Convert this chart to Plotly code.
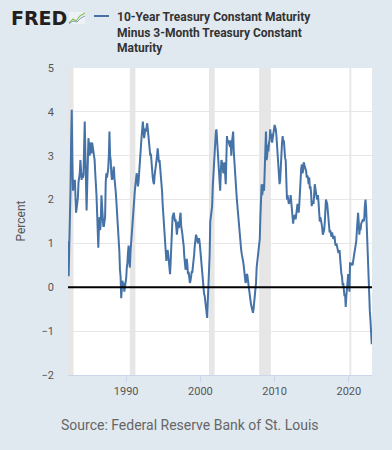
import pandas as pd
import plotly.graph_objects as go

# ---- data (monthly, from Mar 1982) ----
start_month = "1982-03-01"
spread_values = [
    # 1982 (Mar-Dec)
    1.05, 0.25, 0.9, 1.35, 2.2, 3.3, 4.05, 2.9, 2.2, 2.45,
    # 1983
    2.3, 2.45, 2.1, 1.7, 1.8, 1.9, 2.05, 2.4, 2.5, 2.6, 2.9, 2.5,
    # 1984
    2.45, 2.6, 2.5, 2.55, 3.2, 3.78, 3.1, 2.3, 1.75, 2.3, 2.9, 3.4,
    # 1985
    3.2, 3.0, 3.3, 3.25, 3.05, 3.3, 3.2, 3.1, 3.0, 2.9, 2.6, 2.4,
    # 1986
    2.1, 1.7, 1.0, 0.9, 1.4, 1.6, 1.3, 1.5, 2.1, 1.8, 1.6, 1.4,
    # 1987
    1.4, 1.5, 1.6, 2.4, 2.6, 2.5, 2.6, 2.7, 3.0, 3.55, 3.0, 2.9,
    # 1988
    2.6, 2.45, 2.5, 2.7, 2.75, 2.5, 2.4, 2.2, 2.0, 1.8, 1.6, 1.35,
    # 1989
    1.0, 0.8, 0.4, 0.25, -0.25, 0.0, 0.15, 0.05, 0.1, -0.1, 0.0, 0.15,
    # 1990
    0.2, 0.45, 0.55, 0.8, 0.95, 0.6, 0.45, 0.8, 1.05, 1.2, 1.4, 1.5,
    # 1991
    1.8, 2.0, 2.2, 2.35, 2.5, 2.6, 2.5, 2.3, 2.4, 2.65, 2.9, 3.2,
    # 1992
    3.35, 3.45, 3.6, 3.78, 3.6, 3.4, 3.5, 3.62, 3.55, 3.7, 3.74, 3.6,
    # 1993
    3.45, 3.2, 3.05, 3.0, 3.05, 2.8, 2.6, 2.5, 2.4, 2.35, 2.55, 2.65,
    # 1994
    2.7, 2.8, 3.0, 3.17, 3.0, 2.85, 2.9, 2.75, 2.6, 2.4, 2.2, 1.9,
    # 1995
    1.7, 1.5, 1.25, 1.0, 0.8, 0.6, 0.7, 0.85, 0.75, 0.55, 0.4, 0.3,
    # 1996
    0.6, 1.0, 1.3, 1.6, 1.65, 1.7, 1.6, 1.5, 1.55, 1.3, 1.2, 1.35,
    # 1997
    1.5, 1.35, 1.4, 1.6, 1.7, 1.4, 1.2, 1.2, 1.05, 0.95, 0.7, 0.6,
    # 1998
    0.4, 0.5, 0.65, 0.5, 0.3, 0.35, 0.2, 0.1, 0.15, 0.3, 0.35, 0.35,
    # 1999
    0.45, 0.55, 0.75, 0.95, 1.05, 1.2, 1.15, 1.05, 1.0, 1.1, 1.1, 1.0,
    # 2000
    0.8, 0.7, 0.55, 0.35, 0.15, 0.0, -0.15, -0.2, -0.35, -0.45, -0.6, -0.7,
    # 2001
    -0.3, 0.05, 0.3, 0.75, 1.5, 1.6, 1.7, 1.85, 2.3, 2.6, 3.0, 3.3,
    # 2002
    3.4, 3.55, 3.6, 3.35, 3.3, 3.05, 2.8, 2.4, 2.2, 2.6, 2.9, 2.85,
    # 2003
    2.8, 2.6, 2.7, 2.85, 2.6, 2.35, 2.9, 3.45, 3.3, 3.35, 3.3, 3.25,
    # 2004
    3.2, 3.35, 3.0, 3.3, 3.5, 3.55, 3.1, 2.8, 2.6, 2.4, 2.2, 2.0,
    # 2005
    1.8, 1.6, 1.6, 1.35, 1.2, 0.95, 0.85, 0.75, 0.7, 0.6, 0.5, 0.35,
    # 2006
    0.15, 0.1, 0.15, 0.3, 0.28, 0.15, 0.0, -0.15, -0.2, -0.3, -0.4, -0.45,
    # 2007
    -0.5, -0.58, -0.5, -0.35, -0.15, 0.05, 0.1, 0.45, 0.6, 0.65, 0.8, 1.0,
    # 2008
    1.1, 1.6, 2.15, 2.35, 2.1, 2.3, 2.35, 2.2, 2.5, 3.1, 3.55, 2.9,
    # 2009
    3.0, 3.25, 3.1, 3.3, 3.35, 3.6, 3.4, 3.5, 3.3, 3.4, 3.5, 3.65,
    # 2010
    3.7, 3.65, 3.6, 3.45, 3.2, 2.95, 2.8, 2.5, 2.35, 2.45, 2.8, 3.2,
    # 2011
    3.3, 3.45, 3.3, 3.35, 3.1, 2.95, 2.9, 2.3, 2.0, 2.1, 1.95, 1.9,
    # 2012
    1.95, 1.95, 2.1, 1.95, 1.7, 1.55, 1.45, 1.6, 1.65, 1.65, 1.55, 1.65,
    # 2013
    1.85, 1.9, 1.85, 1.7, 1.9, 2.3, 2.5, 2.7, 2.8, 2.6, 2.65, 2.85,
    # 2014
    2.8, 2.7, 2.7, 2.65, 2.5, 2.55, 2.5, 2.35, 2.5, 2.25, 2.3, 2.15,
    # 2015
    1.85, 1.95, 1.95, 1.9, 2.15, 2.35, 2.25, 2.1, 2.05, 2.0, 2.1, 1.95,
    # 2016
    1.8, 1.5, 1.6, 1.55, 1.45, 1.35, 1.2, 1.25, 1.3, 1.45, 1.8, 2.0,
    # 2017
    1.95, 1.9, 1.75, 1.5, 1.35, 1.25, 1.3, 1.2, 1.15, 1.25, 1.15, 1.1,
    # 2018
    1.15, 1.15, 1.0, 0.95, 1.0, 0.9, 0.85, 0.8, 0.8, 0.85, 0.65, 0.4,
    # 2019
    0.3, 0.25, 0.05, 0.1, -0.1, -0.2, -0.15, -0.45, -0.2, -0.05, 0.2, 0.3,
    # 2020
    0.2, -0.1, 0.55, 0.55, 0.5, 0.55, 0.5, 0.6, 0.6, 0.7, 0.8, 0.95,
    # 2021
    1.05, 1.3, 1.65, 1.7, 1.5, 1.2, 1.35, 1.3, 1.45, 1.5, 1.5, 1.55,
    # 2022
    1.5, 1.6, 1.85, 2.0, 1.8, 1.35, 0.75, 0.45, 0.15, -0.15, -0.55, -0.75,
    # 2023
    -1.0, -1.3,
]
dates = pd.date_range(start_month, periods=len(spread_values), freq="MS")

recession_starts = ["1981-07-01", "1990-07-01", "2001-03-01", "2007-12-01", "2020-02-01"]
recession_ends = ["1982-11-30", "1991-03-31", "2001-11-30", "2009-06-30", "2020-04-30"]

x_range = ["1982-03-01", "2023-02-15"]
y_range = [-2, 5]
x_ticks = ["1990-01-01", "2000-01-01", "2010-01-01", "2020-01-01"]
x_ticklabels = ["1990", "2000", "2010", "2020"]

series_name = "10-Year Treasury Constant Maturity<br>Minus 3-Month Treasury Constant<br>Maturity"

BG = "#e1e9f0"
LINE = "#4572a7"
FONT = "Roboto"

fig = go.Figure()
fig.add_trace(go.Scatter(x=dates, y=spread_values, mode="lines",
                         line=dict(color=LINE, width=2), showlegend=False,
                         hoverinfo="skip"))

shapes = []
for s, e in zip(recession_starts, recession_ends):
    shapes.append(dict(type="rect", xref="x", yref="paper", x0=s, x1=e, y0=0, y1=1,
                       fillcolor="#e6e6e6", line=dict(width=0), layer="below"))
# zero line
shapes.append(dict(type="line", xref="paper", yref="y", x0=0, x1=1, y0=0, y1=0,
                   line=dict(color="black", width=2), layer="above"))

# header geometry helpers (paper coords)
L, R, T, B = 68, 20, 68, 75
W, H = 392, 450
pw, ph = W - L - R, H - T - B
def px(xp):
    return (xp - L) / pw
def py(yp):
    return (H - B - yp) / ph

# legend swatch
shapes.append(dict(type="line", xref="paper", yref="paper", x0=px(94), x1=px(109),
                   y0=py(16), y1=py(16), line=dict(color=LINE, width=2)))
# FRED icon (small chart box)
shapes.append(dict(type="rect", xref="paper", yref="paper", x0=px(69), x1=px(85),
                   y0=py(24), y1=py(12), fillcolor="#eef2f5", line=dict(width=0)))
shapes.append(dict(type="path", xref="paper", yref="paper",
                   path=f"M {px(69)} {py(23)} L {px(73)} {py(19)} L {px(76)} {py(21)} L {px(80)} {py(16)} L {px(85)} {py(13)}",
                   line=dict(color="#8cbf5a", width=1.2)))
shapes.append(dict(type="path", xref="paper", yref="paper",
                   path=f"M {px(69)} {py(24)} L {px(73)} {py(21)} L {px(77)} {py(22)} L {px(81)} {py(18)} L {px(85)} {py(16)}",
                   line=dict(color="#7f9fc6", width=1)))

annotations = [
    dict(text="FRED", xref="paper", yref="paper", x=px(9), y=py(18), xanchor="left",
         yanchor="middle", showarrow=False,
         font=dict(family="DejaVu Sans", size=19, color="#231f20", weight="bold")),
    dict(text=series_name, xref="paper", yref="paper", x=px(115), y=py(8),
         xanchor="left", yanchor="top", align="left", showarrow=False,
         font=dict(family=FONT, size=12, color="#333333", weight="bold")),
    dict(text="Percent", xref="paper", yref="paper", x=px(20), y=0.5, textangle=-90,
         xanchor="center", yanchor="middle", showarrow=False,
         font=dict(family=FONT, size=12, color="#555555")),
    dict(text="Source: Federal Reserve Bank of St. Louis", xref="paper", yref="paper",
         x=px(190), y=py(425), xanchor="center", yanchor="middle", showarrow=False,
         font=dict(family=FONT, size=14, color="#666666")),
]

fig.update_layout(
    width=W, height=H,
    margin=dict(l=L, r=R, t=T, b=B),
    paper_bgcolor=BG, plot_bgcolor="white",
    shapes=shapes, annotations=annotations,
    font=dict(family=FONT, size=11, color="#555555"),
    xaxis=dict(type="date", range=x_range, tickmode="array", tickvals=x_ticks,
               ticktext=x_ticklabels, showgrid=False, ticks="outside", ticklen=6,
               tickcolor="#ccd6eb", showline=True, linecolor="#ccd6eb", linewidth=1,
               zeroline=False, tickfont=dict(size=11, color="#555555")),
    yaxis=dict(range=y_range, dtick=1, showgrid=True, gridcolor="#e6e6e6", gridwidth=1,
               zeroline=False, ticks="", ticklabelstandoff=13,
               tickfont=dict(size=11, color="#555555")),
)

fig.write_html("out.html", config={"displayModeBar": False},
               post_script="document.body.style.margin='0';document.body.style.overflow='hidden';")
